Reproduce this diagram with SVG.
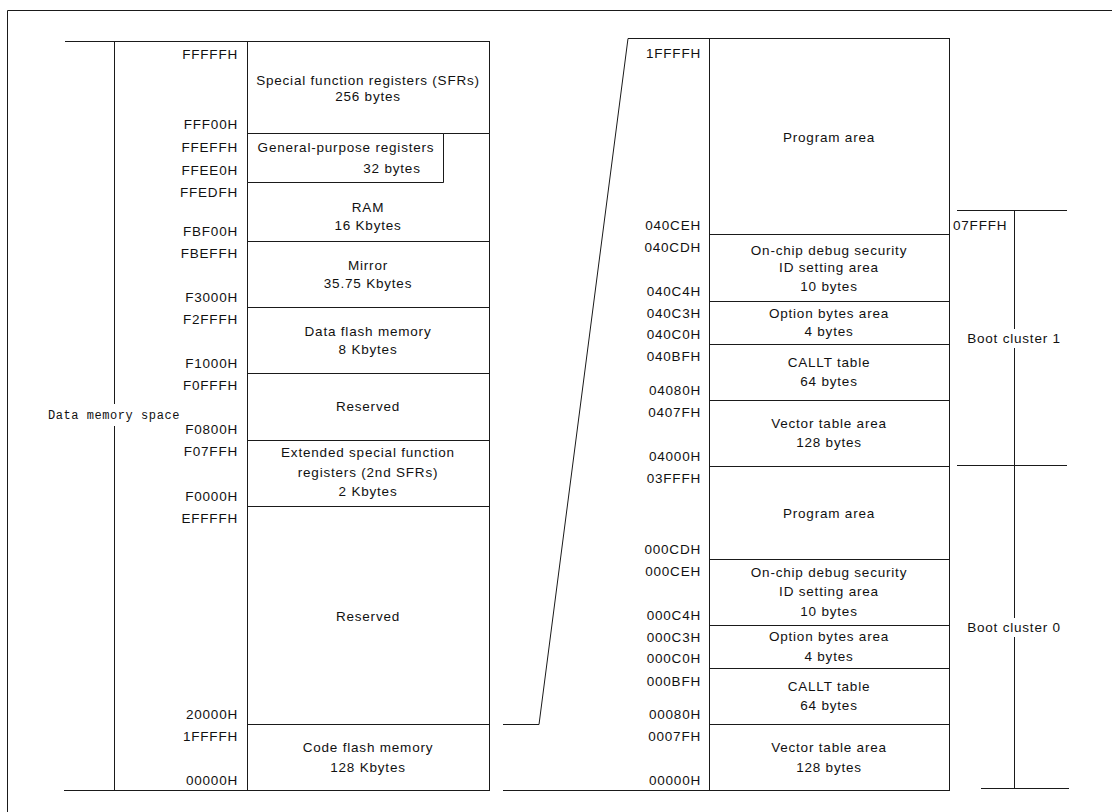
<svg xmlns="http://www.w3.org/2000/svg" width="1112" height="812" viewBox="0 0 1112 812">
  <style>
    .box { fill: #ffffff; stroke: #1a1a1a; stroke-width: 1; }
    .ln { fill: none; stroke: #1a1a1a; stroke-width: 1; }
    text { font-family: "Liberation Sans", Arial, sans-serif; font-size: 13.5px; letter-spacing: 0.8px; fill: #111111; }
    .addr { text-anchor: end; }
    .mid { text-anchor: middle; }
    .mono { font-family: "Liberation Mono", "DejaVu Sans Mono", monospace; font-size: 12px; letter-spacing: 0.55px; }
  </style>

  <rect x="0" y="0" width="1112" height="812" fill="#ffffff"/>

  <!-- outer frame -->
  <path class="ln" d="M7.5 812 V10.5 H1112"/>

  <!-- data memory space: bracket and outline -->
  <g id="data-space-bracket">
    <path class="ln" d="M65 41.5 H489.5 M64 790.5 H489.5 M114.5 41 V404 M114.5 426 V790"/>
    <text class="mono mid" x="114" y="419">Data memory space</text>
  </g>

  <!-- left column: data memory map -->
  <g id="sfr">
    <rect class="box" x="247.5" y="41.5" width="242" height="92"/>
    <text class="mid" x="368" y="85">Special function registers (SFRs)</text>
    <text class="mid" x="368" y="101">256 bytes</text>
    <text class="addr" x="238" y="59">FFFFFH</text>
    <text class="addr" x="238" y="129">FFF00H</text>
  </g>
  <g id="gpr">
    <rect class="box" x="247.5" y="133.5" width="196" height="49"/>
    <text class="mid" x="346" y="152">General-purpose registers</text>
    <text class="mid" x="392" y="173">32 bytes</text>
    <text class="addr" x="238" y="152">FFEFFH</text>
    <text class="addr" x="238" y="175">FFEE0H</text>
  </g>
  <g id="ram">
    <path class="box" d="M247.5 182.5 H443.5 V133.5 H489.5 V241.5 H247.5 Z"/>
    <text class="mid" x="368" y="212">RAM</text>
    <text class="mid" x="368" y="230">16 Kbytes</text>
    <text class="addr" x="238" y="197">FFEDFH</text>
    <text class="addr" x="238" y="236">FBF00H</text>
  </g>
  <g id="mirror">
    <rect class="box" x="247.5" y="241.5" width="242" height="66"/>
    <text class="mid" x="368" y="270">Mirror</text>
    <text class="mid" x="368" y="288">35.75 Kbytes</text>
    <text class="addr" x="238" y="258">FBEFFH</text>
    <text class="addr" x="238" y="302">F3000H</text>
  </g>
  <g id="data-flash">
    <rect class="box" x="247.5" y="307.5" width="242" height="66"/>
    <text class="mid" x="368" y="336">Data flash memory</text>
    <text class="mid" x="368" y="354">8 Kbytes</text>
    <text class="addr" x="238" y="324">F2FFFH</text>
    <text class="addr" x="238" y="368">F1000H</text>
  </g>
  <g id="reserved-1">
    <rect class="box" x="247.5" y="373.5" width="242" height="67"/>
    <text class="mid" x="368" y="411">Reserved</text>
    <text class="addr" x="238" y="390">F0FFFH</text>
    <text class="addr" x="238" y="434">F0800H</text>
  </g>
  <g id="ext-sfr">
    <rect class="box" x="247.5" y="440.5" width="242" height="66"/>
    <text class="mid" x="368" y="457">Extended special function</text>
    <text class="mid" x="368" y="477">registers (2nd SFRs)</text>
    <text class="mid" x="368" y="496">2 Kbytes</text>
    <text class="addr" x="238" y="456">F07FFH</text>
    <text class="addr" x="238" y="501">F0000H</text>
  </g>
  <g id="reserved-2">
    <rect class="box" x="247.5" y="506.5" width="242" height="218"/>
    <text class="mid" x="368" y="621">Reserved</text>
    <text class="addr" x="238" y="523">EFFFFH</text>
    <text class="addr" x="238" y="719">20000H</text>
  </g>
  <g id="code-flash">
    <rect class="box" x="247.5" y="724.5" width="242" height="66"/>
    <text class="mid" x="368" y="752">Code flash memory</text>
    <text class="mid" x="368" y="772">128 Kbytes</text>
    <text class="addr" x="238" y="741">1FFFFH</text>
    <text class="addr" x="238" y="785">00000H</text>
  </g>

  <!-- right column: code flash detail -->
  <g id="program-area-1">
    <rect class="box" x="709.5" y="38.5" width="240" height="196"/>
    <text class="mid" x="829" y="142">Program area</text>
    <text class="addr" x="701" y="58">1FFFFH</text>
    <text class="addr" x="701" y="230">040CEH</text>
  </g>
  <g id="ocd-id-1">
    <rect class="box" x="709.5" y="234.5" width="240" height="67"/>
    <text class="mid" x="829" y="255">On-chip debug security</text>
    <text class="mid" x="829" y="272">ID setting area</text>
    <text class="mid" x="829" y="291">10 bytes</text>
    <text class="addr" x="701" y="252">040CDH</text>
    <text class="addr" x="701" y="296">040C4H</text>
  </g>
  <g id="option-bytes-1">
    <rect class="box" x="709.5" y="301.5" width="240" height="43"/>
    <text class="mid" x="829" y="318">Option bytes area</text>
    <text class="mid" x="829" y="336">4 bytes</text>
    <text class="addr" x="701" y="318">040C3H</text>
    <text class="addr" x="701" y="339">040C0H</text>
  </g>
  <g id="callt-1">
    <rect class="box" x="709.5" y="344.5" width="240" height="56"/>
    <text class="mid" x="829" y="367">CALLT table</text>
    <text class="mid" x="829" y="386">64 bytes</text>
    <text class="addr" x="701" y="361">040BFH</text>
    <text class="addr" x="701" y="395">04080H</text>
  </g>
  <g id="vector-1">
    <rect class="box" x="709.5" y="400.5" width="240" height="66"/>
    <text class="mid" x="829" y="428">Vector table area</text>
    <text class="mid" x="829" y="447">128 bytes</text>
    <text class="addr" x="701" y="417">0407FH</text>
    <text class="addr" x="701" y="461">04000H</text>
  </g>
  <g id="program-area-0">
    <rect class="box" x="709.5" y="466.5" width="240" height="93"/>
    <text class="mid" x="829" y="518">Program area</text>
    <text class="addr" x="701" y="483">03FFFH</text>
    <text class="addr" x="701" y="554">000CDH</text>
  </g>
  <g id="ocd-id-0">
    <rect class="box" x="709.5" y="559.5" width="240" height="66"/>
    <text class="mid" x="829" y="577">On-chip debug security</text>
    <text class="mid" x="829" y="596">ID setting area</text>
    <text class="mid" x="829" y="616">10 bytes</text>
    <text class="addr" x="701" y="576">000CEH</text>
    <text class="addr" x="701" y="620">000C4H</text>
  </g>
  <g id="option-bytes-0">
    <rect class="box" x="709.5" y="625.5" width="240" height="43"/>
    <text class="mid" x="829" y="641">Option bytes area</text>
    <text class="mid" x="829" y="661">4 bytes</text>
    <text class="addr" x="701" y="642">000C3H</text>
    <text class="addr" x="701" y="663">000C0H</text>
  </g>
  <g id="callt-0">
    <rect class="box" x="709.5" y="668.5" width="240" height="56"/>
    <text class="mid" x="829" y="691">CALLT table</text>
    <text class="mid" x="829" y="710">64 bytes</text>
    <text class="addr" x="701" y="686">000BFH</text>
    <text class="addr" x="701" y="719">00080H</text>
  </g>
  <g id="vector-0">
    <rect class="box" x="709.5" y="724.5" width="240" height="66"/>
    <text class="mid" x="829" y="752">Vector table area</text>
    <text class="mid" x="829" y="772">128 bytes</text>
    <text class="addr" x="701" y="741">0007FH</text>
    <text class="addr" x="701" y="785">00000H</text>
  </g>

  <!-- boot cluster brackets -->
  <g id="boot-cluster-1">
    <path class="ln" d="M957 210.5 H1067 M1014.5 210 V329 M1014.5 348 V465"/>
    <text x="953" y="230">07FFFH</text>
    <text class="mid" x="1014" y="343">Boot cluster 1</text>
  </g>
  <g id="boot-cluster-0">
    <path class="ln" d="M957 465.5 H1067 M1014.5 465 V618 M1014.5 637 V788 M981 788.5 H1069"/>
    <text class="mid" x="1014" y="632">Boot cluster 0</text>
  </g>

  <!-- connectors: code flash expanded into the right column -->
  <g id="connectors">
    <path class="ln" d="M503 724.5 H539 L628 38.5 H709.5"/>
    <path class="ln" d="M503 790.5 H709.5"/>
  </g>
</svg>
